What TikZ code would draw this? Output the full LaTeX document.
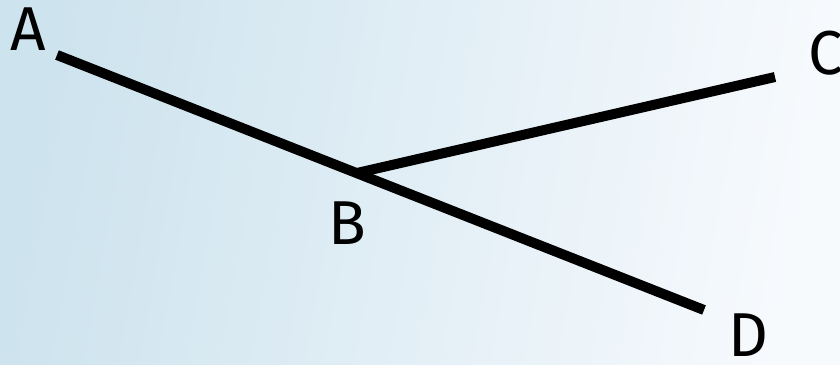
\documentclass[tikz,border=0pt]{standalone}
\usepackage{fontspec}
\setmainfont{Fira Sans}
\begin{document}
\begin{tikzpicture}[x=1pt,y=-1pt,
  seg/.style={line width=10pt,line cap=butt,black},
  lbl/.style={inner sep=0pt,font=\fontsize{62}{62}\selectfont}]
\useasboundingbox (0,0) rectangle (840,364);
\shade[left color={rgb,255:red,205;green,227;blue,238},right color={rgb,255:red,247;green,250;blue,253},shading angle=80] (0,0) rectangle (840,364);
\coordinate (pa) at (57,55);
\coordinate (pb) at (357,173);
\coordinate (pc) at (775,77);
\coordinate (pd) at (704,310);
\draw[seg] (pa) -- (pd);
\draw[seg] (pb) -- (pc);
\node[lbl] (la) at (28,29) {A};
\node[lbl] (lb) at (347,223) {B};
\node[lbl] (lc) at (826,53) {C};
\node[lbl] (ld) at (748,335) {D};
\end{tikzpicture}
\end{document}
